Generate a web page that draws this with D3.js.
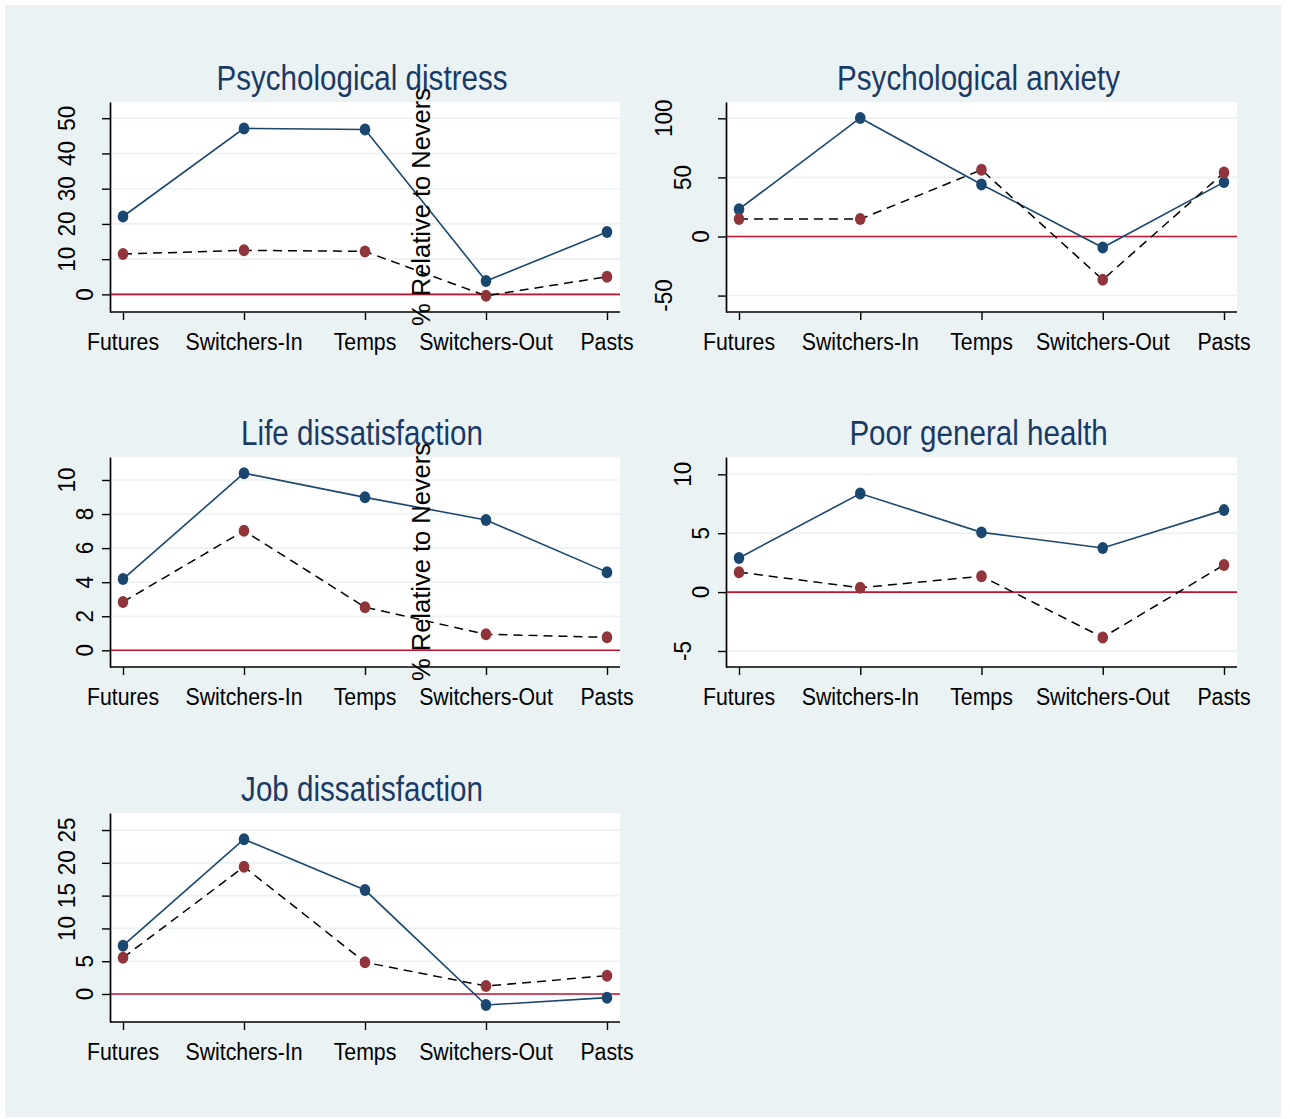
<!DOCTYPE html>
<html>
<head>
<meta charset="utf-8">
<script src="https://cdn.jsdelivr.net/npm/d3@7"></script>
<style>
  body { margin: 0; background: #ffffff; }
  text { font-family: "Liberation Sans", Arial, sans-serif; }
</style>
</head>
<body>
<div id="chart"></div>
<script>
// Groups on the x axis (same for every panel)
const groups = ["Futures", "Switchers-In", "Temps", "Switchers-Out", "Pasts"];

// Panel titles
const titles = ["Psychological distress", "Psychological anxiety", "Life dissatisfaction",
                "Poor general health", "Job dissatisfaction"];

// Solid (blue) series
const distressSolid = [22.1, 47.1, 46.8, 3.8, 17.7];
const anxietySolid  = [23.1, 100.3, 44, -9.3, 46];
const lifeSolid     = [4.18, 10.4, 8.98, 7.65, 4.59];
const healthSolid   = [2.9, 8.37, 5.07, 3.75, 6.96];
const jobSolid      = [7.37, 23.6, 15.85, -1.68, -0.56];

// Dashed (red marker) series
const distressDashed = [11.45, 12.5, 12.2, -0.4, 5.0];
const anxietyDashed  = [14.7, 14.7, 56.4, -36.6, 54.1];
const lifeDashed     = [2.84, 7.02, 2.53, 0.94, 0.76];
const healthDashed   = [1.69, 0.37, 1.35, -3.85, 2.31];
const jobDashed      = [5.53, 19.4, 4.83, 1.22, 2.79];

// Y tick values per panel
const distressTicks = [0, 10, 20, 30, 40, 50];
const anxietyTicks  = [-50, 0, 50, 100];
const lifeTicks     = [0, 2, 4, 6, 8, 10];
const healthTicks   = [-5, 0, 5, 10];
const jobTicks      = [0, 5, 10, 15, 20, 25];

// Y axis ranges (bottom, top) per panel
const distressRange = [-5.0, 54.6];
const anxietyRange  = [-63.9, 113.8];
const lifeRange     = [-0.98, 11.35];
const healthRange   = [-6.36, 11.47];
const jobRange      = [-4.27, 27.6];

const yTitle = "% Relative to Nevers";

const width = 1290, height = 1119;

const colLeft = [110, 726], colRight = [620, 1237];
const rowTop = [102, 457, 813], rowBottom = [312, 667, 1022];

const navy = "#1a476f", maroon = "#90353b", bg = "#eaf2f3";

const panels = [
  { title: titles[0], solid: distressSolid, dashed: distressDashed, ticks: distressTicks, range: distressRange, col: 0, row: 0, ytitle: true },
  { title: titles[1], solid: anxietySolid,  dashed: anxietyDashed,  ticks: anxietyTicks,  range: anxietyRange,  col: 1, row: 0, ytitle: false },
  { title: titles[2], solid: lifeSolid,     dashed: lifeDashed,     ticks: lifeTicks,     range: lifeRange,     col: 0, row: 1, ytitle: true },
  { title: titles[3], solid: healthSolid,   dashed: healthDashed,   ticks: healthTicks,   range: healthRange,   col: 1, row: 1, ytitle: false },
  { title: titles[4], solid: jobSolid,      dashed: jobDashed,      ticks: jobTicks,      range: jobRange,      col: 0, row: 2, ytitle: false }
];

const svg = d3.select("#chart")
  .append("svg")
  .attr("width", width)
  .attr("height", height);

// Outer graph region
svg.append("rect")
  .attr("x", 5).attr("y", 5)
  .attr("width", 1276).attr("height", 1112)
  .attr("fill", bg);

panels.forEach(p => {
  const x0 = colLeft[p.col], x1 = colRight[p.col];
  const y0 = rowTop[p.row], y1 = rowBottom[p.row];

  const x = d3.scalePoint()
    .domain(groups)
    .range([x0 + 13, x1 - 13]);

  const y = d3.scaleLinear()
    .domain(p.range)
    .range([y1, y0]);

  const g = svg.append("g");

  // Plot region
  g.append("rect")
    .attr("x", x0).attr("y", y0)
    .attr("width", x1 - x0).attr("height", y1 - y0)
    .attr("fill", "#ffffff");

  // Grid lines
  g.selectAll(".grid")
    .data(p.ticks)
    .enter()
    .append("line")
    .attr("x1", x0).attr("x2", x1)
    .attr("y1", d => y(d)).attr("y2", d => y(d))
    .attr("stroke", bg)
    .attr("stroke-width", 1.6);

  // Zero reference line
  g.append("line")
    .attr("x1", x0).attr("x2", x1)
    .attr("y1", y(0)).attr("y2", y(0))
    .attr("stroke", "#c8102e")
    .attr("stroke-width", 1.6);

  // Y axis
  const yAxis = g.append("g")
    .attr("transform", `translate(${x0},0)`)
    .call(d3.axisLeft(y).tickValues(p.ticks).tickSize(8).tickSizeOuter(0).tickFormat(""));
  yAxis.select(".domain").attr("stroke", "#000").attr("stroke-width", 1.7);
  yAxis.selectAll(".tick line").attr("stroke", "#000").attr("stroke-width", 1.4);

  // Rotated y tick labels, placed like the Stata output
  g.selectAll(".ylab")
    .data(p.ticks)
    .enter()
    .append("text")
    .attr("transform", d => {
      const n = String(d).length;
      const bx = x0 - 17 - 18.5 * (n - 1);
      return `translate(${bx},${y(d)}) rotate(-90) scale(1,1.04)`;
    })
    .attr("text-anchor", "middle")
    .style("font-size", "22.5px")
    .attr("fill", "#000")
    .text(d => String(d));

  // X axis
  const xAxis = g.append("g")
    .attr("transform", `translate(0,${y1})`)
    .call(d3.axisBottom(x).tickSize(8).tickSizeOuter(0).tickFormat(""));
  xAxis.select(".domain").attr("stroke", "#000").attr("stroke-width", 1.7)
    .attr("d", `M${x0},0H${x1}`);
  xAxis.selectAll(".tick line").attr("stroke", "#000").attr("stroke-width", 1.4);

  g.selectAll(".xlab")
    .data(groups)
    .enter()
    .append("text")
    .attr("transform", d => `translate(${x(d)},${y1 + 38}) scale(1,1.13)`)
    .attr("text-anchor", "middle")
    .style("font-size", "21.3px")
    .attr("fill", "#000")
    .text(d => d);

  // Title
  g.append("text")
    .attr("transform", `translate(${(x0 + x1) / 2 - 3},${y0 - 12}) scale(1,1.18)`)
    .attr("text-anchor", "middle")
    .style("font-size", "29.6px")
    .attr("fill", "#1a3a66")
    .text(p.title);

  // Solid series
  const line = d3.line()
    .x((d, i) => x(groups[i]))
    .y(d => y(d));

  g.append("path")
    .datum(p.solid)
    .attr("fill", "none")
    .attr("stroke", navy)
    .attr("stroke-width", 1.6)
    .attr("d", line);

  g.selectAll(".solidpt")
    .data(p.solid)
    .enter()
    .append("ellipse")
    .attr("cx", (d, i) => x(groups[i]))
    .attr("cy", d => y(d))
    .attr("rx", 5.3).attr("ry", 6)
    .attr("fill", navy);

  // Dashed series
  g.append("path")
    .datum(p.dashed)
    .attr("fill", "none")
    .attr("stroke", "#000")
    .attr("stroke-width", 1.5)
    .attr("stroke-dasharray", "9,6")
    .attr("d", line);

  g.selectAll(".dashedpt")
    .data(p.dashed)
    .enter()
    .append("ellipse")
    .attr("cx", (d, i) => x(groups[i]))
    .attr("cy", d => y(d))
    .attr("rx", 5.3).attr("ry", 6)
    .attr("fill", maroon);
});

// Misplaced y-axis titles, drawn over the left-column panels as in the original
panels.filter(p => p.ytitle).forEach(p => {
  const cy = (rowTop[p.row] + rowBottom[p.row]) / 2;
  svg.append("text")
    .attr("transform", `translate(430,${cy}) rotate(-90)`)
    .attr("text-anchor", "middle")
    .style("font-size", "25.5px")
    .attr("fill", "#000")
    .text(yTitle);
});
</script>
</body>
</html>
